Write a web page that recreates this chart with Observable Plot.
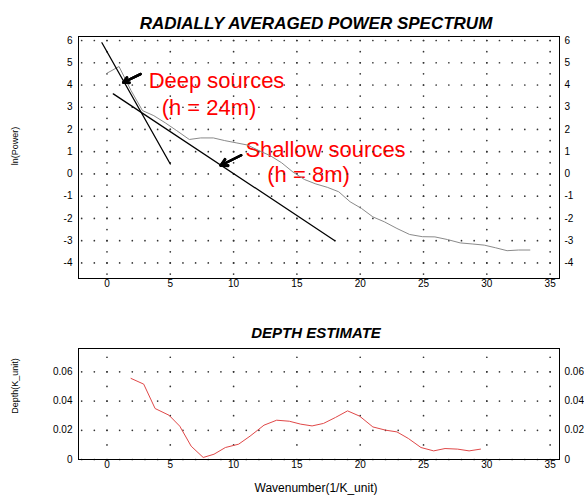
<!DOCTYPE html>
<html><head><meta charset="utf-8">
<script src="https://cdn.jsdelivr.net/npm/d3@7"></script>
<script src="https://cdn.jsdelivr.net/npm/@observablehq/plot@0.6"></script>
<style>
body{margin:0;background:#fff;font-family:"Liberation Sans",Arial,sans-serif;}
#wrap{position:relative;width:584px;height:497px;overflow:hidden;background:#fff;}
#top,#bot{position:absolute;left:0;}
#top{top:0px}
#bot{top:300px}
.t{position:absolute;white-space:nowrap;color:#000;}
.title{font-weight:bold;font-style:italic;transform:translateX(-50%);}
.ytitle{font-size:9px;line-height:9px;transform:translate(-50%,-50%) rotate(-90deg);}
</style></head><body>
<div id="wrap">
  <div id="top"></div>
  <div id="bot"></div>
  <div class="t title" style="left:316px;top:14.6px;font-size:17px;line-height:17px;">RADIALLY AVERAGED POWER SPECTRUM</div>
  <div class="t title" style="left:316px;top:324.6px;font-size:15px;line-height:15px;">DEPTH ESTIMATE</div>
  <div class="t ytitle" style="left:14.5px;top:146px;">ln(Power)</div>
  <div class="t ytitle" style="left:14.5px;top:386px;">Depth(K_unit)</div>
  <div class="t" style="left:316px;top:481.5px;font-size:12px;line-height:12px;transform:translateX(-50%);">Wavenumber(1/K_unit)</div>
</div>
<script>
// ---- Tick labels ----
const xTicks = [0, 5, 10, 15, 20, 25, 30, 35];
const yTicksTop = [-4, -3, -2, -1, 0, 1, 2, 3, 4, 5, 6];
const yTicksBottom = [0, 0.02, 0.04, 0.06];

// ---- Radially averaged power spectrum (gray line) ----
const specX = [0, 0.95, 1.9, 2.8, 3.7, 4.6, 5.5, 6.5, 7.4, 8.4, 9.3, 10.2, 11.1, 12.0, 12.9, 13.8, 14.7, 15.6, 16.5, 17.4, 18.3, 19.2, 20.1, 21.0, 21.9, 22.9, 23.9, 24.9, 25.9, 26.9, 27.9, 28.9, 29.8, 30.7, 31.6, 32.5, 33.4];
const specY = [4.53, 4.83, 3.75, 2.85, 2.62, 2.3, 1.95, 1.55, 1.62, 1.62, 1.5, 1.4, 1.3, 1.05, 0.82, 0.5, 0.08, -0.25, -0.45, -0.6, -0.8, -1.25, -1.55, -1.93, -2.15, -2.45, -2.72, -2.82, -2.83, -2.95, -3.1, -3.15, -3.2, -3.32, -3.45, -3.42, -3.42];

// ---- Fitted straight lines ----
const deepX = [-0.4, 5.0];
const deepY = [5.9, 0.45];
const shallowX = [0.5, 18.0];
const shallowY = [3.6, -3.0];

// ---- Annotations ----
const annoText = ["Deep sources", "(h = 24m)", "Shallow sources", "(h = 8m)"];
const annoX = [8.65, 8.06, 17.26, 15.92];
const annoY = [4.2, 2.96, 1.09, -0.03];
const arrowX1 = [2.65, 10.6];
const arrowY1 = [4.49, 0.84];
const arrowX2 = [1.28, 8.97];
const arrowY2 = [4.11, 0.38];

// ---- Depth estimate (red line) ----
const depthX = [1.9, 2.9, 3.8, 4.9, 5.75, 6.65, 7.6, 8.45, 9.35, 10.4, 11.3, 12.4, 13.4, 14.4, 15.3, 16.2, 17.1, 18.05, 19.0, 19.95, 21.0, 22.0, 22.9, 23.8, 24.8, 25.8, 26.7, 27.7, 28.6, 29.5];
const depthY = [0.0555, 0.0516, 0.0349, 0.0303, 0.0228, 0.0091, 0.0014, 0.0036, 0.0082, 0.0105, 0.016, 0.0235, 0.0269, 0.0262, 0.0242, 0.023, 0.0247, 0.0288, 0.0333, 0.0297, 0.0223, 0.0201, 0.0189, 0.0144, 0.0082, 0.0059, 0.0075, 0.0071, 0.0059, 0.0071];

// ---- build tables ----
const spec = specX.map((x, i) => ({x, y: specY[i]}));
const deep = deepX.map((x, i) => ({x, y: deepY[i]}));
const shallow = shallowX.map((x, i) => ({x, y: shallowY[i]}));
const anno = annoText.map((t, i) => ({t, x: annoX[i], y: annoY[i]}));
const arrows = arrowX1.map((x1, i) => ({x1, y1: arrowY1[i], x2: arrowX2[i], y2: arrowY2[i]}));
const depth = depthX.map((x, i) => ({x, y: depthY[i]}));

const xUnits = d3.range(-2, 36, 1);
function gridDots(rowVals, colVals) {
  const pts = [];
  for (const y of rowVals) for (const x of xUnits) pts.push({x, y});
  for (const x of xTicks) for (const y of colVals) pts.push({x, y});
  return pts;
}
const topGrid = gridDots(yTicksTop, d3.range(-4.5, 6.01, 0.5));
const botGrid = gridDots([0, 0.02, 0.04, 0.06], d3.range(1, 8).map(k => k / 100));

const font = "Liberation Sans, Arial, sans-serif";
const style = {fontFamily: font, fontSize: "10px", background: "transparent", color: "black", overflow: "visible"};
const fmt = d => String(d);
const arrowOpts = {x1: "x1", y1: "y1", x2: "x2", y2: "y2", stroke: "#000"};

const topPlot = Plot.plot({
  width: 584, height: 300,
  marginTop: 36, marginBottom: 22, marginLeft: 78, marginRight: 25,
  x: {domain: [-2.25, 35.74]},
  y: {domain: [-4.7, 6.18]},
  style,
  marks: [
    Plot.axisX({ticks: xTicks, tickSize: 0, tickPadding: 1.5, label: null, tickFormat: fmt}),
    Plot.axisY({anchor: "left", ticks: yTicksTop, tickSize: 0, tickPadding: 6, label: null, tickFormat: fmt}),
    Plot.axisY({anchor: "right", ticks: yTicksTop, tickSize: 0, tickPadding: 5, label: null, tickFormat: fmt}),
    Plot.text(anno, {x: "x", y: "y", text: "t", fill: "#ff0000", fontSize: 22, fontFamily: font, textAnchor: "middle", lineAnchor: "middle"}),
    Plot.dot(topGrid, {x: "x", y: "y", r: 0.85, fill: "#333", stroke: null}),
    Plot.line(spec, {x: "x", y: "y", stroke: "#8a8a8a", strokeWidth: 1}),
    Plot.line(deep, {x: "x", y: "y", stroke: "#000", strokeWidth: 1.3}),
    Plot.line(shallow, {x: "x", y: "y", stroke: "#000", strokeWidth: 1.3}),
    Plot.arrow(arrows, {...arrowOpts, strokeWidth: 2.4, headLength: 9, headAngle: 60, strokeLinejoin: "miter"}),
    Plot.arrow(arrows, {...arrowOpts, strokeWidth: 2.4, headLength: 5, headAngle: 50}),
    Plot.arrow(arrows, {...arrowOpts, strokeWidth: 2.4, headLength: 2.5, headAngle: 40}),
    Plot.frame({stroke: "#000", strokeWidth: 1})
  ]
});
document.getElementById("top").appendChild(topPlot);

const botPlot = Plot.plot({
  width: 584, height: 197,
  marginTop: 48, marginBottom: 38, marginLeft: 78, marginRight: 25,
  x: {domain: [-2.25, 35.74]},
  y: {domain: [0, 0.076]},
  style,
  marks: [
    Plot.axisX({ticks: xTicks, tickSize: 0, tickPadding: 1.5, label: null, tickFormat: fmt}),
    Plot.axisY({anchor: "left", ticks: yTicksBottom, tickSize: 0, tickPadding: 6, label: null, tickFormat: fmt}),
    Plot.axisY({anchor: "right", ticks: yTicksBottom, tickSize: 0, tickPadding: 5, label: null, tickFormat: fmt}),
    Plot.dot(botGrid, {x: "x", y: "y", r: 0.85, fill: "#333", stroke: null}),
    Plot.line(depth, {x: "x", y: "y", stroke: "#e04848", strokeWidth: 1}),
    Plot.frame({stroke: "#000", strokeWidth: 1})
  ]
});
document.getElementById("bot").appendChild(botPlot);
</script>
</body></html>
